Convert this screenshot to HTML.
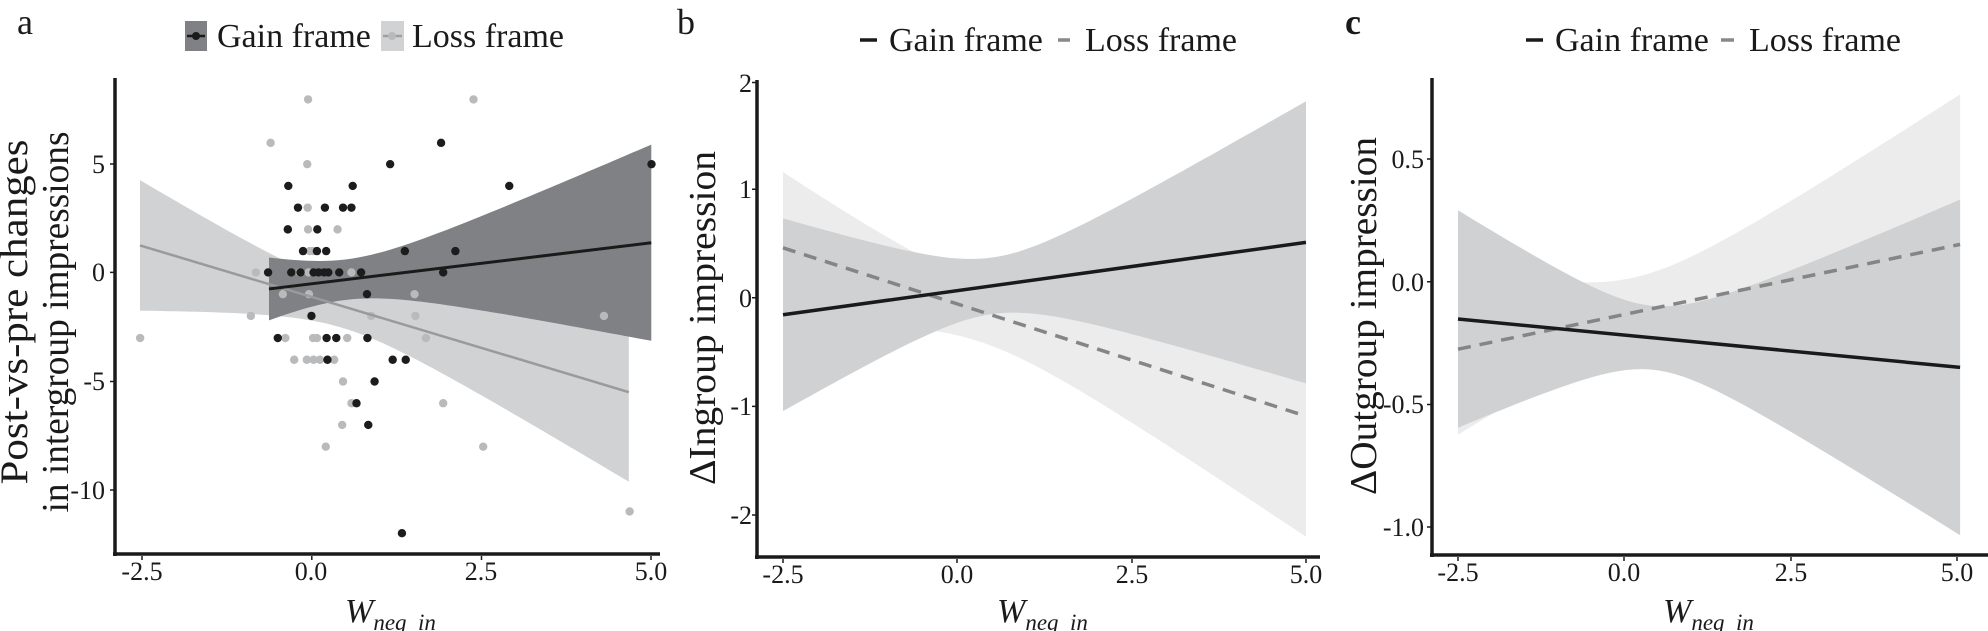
<!DOCTYPE html>
<html><head><meta charset="utf-8"><style>
html,body{margin:0;padding:0;background:#fff;}
svg{display:block;}
text{font-family:"Liberation Serif",serif;fill:#1a1a1a;}
.t{font-size:26px;}
.lg{font-size:34px;}
.ti{font-size:36px;}
</style></head><body>
<svg id="s" width="1988" height="631" viewBox="0 0 1988 631" xmlns="http://www.w3.org/2000/svg">
<g id="g"></g>
<g stroke="#1a1a1a" stroke-width="3.5" fill="none">
<path d="M115 78 V556 M113 554 H660"/>
<path d="M757 80 V559 M755 557 H1320"/>
<path d="M1432 78 V557 M1430 555 H1988"/>
</g>
<g stroke="#1a1a1a" stroke-width="1.5">
<path d="M110 164h5M110 272.4h5M110 381.5h5M110 490h5M142 556v4M311.8 556v4M481.5 556v4M651 556v4"/>
<path d="M752 82.5h5M752 189.2h5M752 297.8h5M752 406.4h5M752 515h5M783 559v4M957 559v4M1132 559v4M1306 559v4"/>
<path d="M1427 159h5M1427 281.7h5M1427 404.5h5M1427 527h5M1458 557v4M1624 557v4M1791 557v4M1957 557v4"/>
</g>
<text x="17" y="34" class="ti">a</text>
<g class="t" text-anchor="end">
<text x="105" y="173">5</text><text x="105" y="281">0</text><text x="105" y="390">-5</text><text x="105" y="499">-10</text>
</g>
<g class="t" text-anchor="middle">
<text x="142" y="580">-2.5</text><text x="311" y="580">0.0</text><text x="481" y="580">2.5</text><text x="651" y="580">5.0</text>
</g>
<text x="345" y="622" style="font-size:34px;font-style:italic">W<tspan style="font-size:23px" dy="8">neg_in</tspan></text>
<text transform="translate(27,312) rotate(-90)" text-anchor="middle" style="font-size:39px" textLength="345" lengthAdjust="spacingAndGlyphs">Post-vs-pre changes</text>
<text transform="translate(68,322) rotate(-90)" text-anchor="middle" style="font-size:38px" textLength="381" lengthAdjust="spacingAndGlyphs">in intergroup impressions</text>
<rect x="185" y="21" width="22" height="30" fill="#808184"/>
<line x1="187" y1="36" x2="205" y2="36" stroke="#1a1a1a" stroke-width="2.5"/><circle cx="196" cy="36" r="4" fill="#1a1a1a"/>
<text x="217" y="47" class="lg">Gain frame</text>
<rect x="381" y="21" width="23" height="30" fill="#d1d2d4"/>
<line x1="383" y1="36" x2="402" y2="36" stroke="#a0a0a0" stroke-width="2.5"/><circle cx="392" cy="36" r="4" fill="#b8b9bb"/>
<text x="412" y="47" class="lg">Loss frame</text>
<text x="677" y="34" class="ti">b</text>
<g class="t" text-anchor="end">
<text x="752" y="92">2</text><text x="752" y="198">1</text><text x="752" y="307">0</text><text x="752" y="415">-1</text><text x="752" y="524">-2</text>
</g>
<g class="t" text-anchor="middle">
<text x="783" y="583">-2.5</text><text x="957" y="583">0.0</text><text x="1132" y="583">2.5</text><text x="1306" y="583">5.0</text>
</g>
<text x="997" y="622" style="font-size:34px;font-style:italic">W<tspan style="font-size:23px" dy="8">neg_in</tspan></text>
<text transform="translate(715,318) rotate(-90)" text-anchor="middle" style="font-size:38px" textLength="334" lengthAdjust="spacingAndGlyphs">ΔIngroup impression</text>
<line x1="860" y1="40" x2="877" y2="40" stroke="#1a1a1a" stroke-width="3.5"/>
<text x="889" y="51" class="lg">Gain frame</text>
<line x1="1058" y1="40" x2="1070" y2="40" stroke="#888" stroke-width="3.5"/>
<text x="1085" y="51" class="lg">Loss frame</text>
<text x="1345" y="34" class="ti" font-weight="bold">c</text>
<g class="t" text-anchor="end">
<text x="1424" y="168">0.5</text><text x="1424" y="291">0.0</text><text x="1424" y="413">-0.5</text><text x="1424" y="536">-1.0</text>
</g>
<g class="t" text-anchor="middle">
<text x="1458" y="581">-2.5</text><text x="1624" y="581">0.0</text><text x="1791" y="581">2.5</text><text x="1957" y="581">5.0</text>
</g>
<text x="1663" y="622" style="font-size:34px;font-style:italic">W<tspan style="font-size:23px" dy="8">neg_in</tspan></text>
<text transform="translate(1376,316) rotate(-90)" text-anchor="middle" style="font-size:38px" textLength="358" lengthAdjust="spacingAndGlyphs">ΔOutgroup impression</text>
<line x1="1526" y1="40" x2="1543" y2="40" stroke="#1a1a1a" stroke-width="3.5"/>
<text x="1555" y="51" class="lg">Gain frame</text>
<line x1="1721" y1="40" x2="1734" y2="40" stroke="#888" stroke-width="3.5"/>
<text x="1749" y="51" class="lg">Loss frame</text>
</svg>
<script>
(function(){
var g=document.getElementById('g'),NS='http://www.w3.org/2000/svg';
function el(n,a){var e=document.createElementNS(NS,n);for(var k in a)e.setAttribute(k,a[k]);g.appendChild(e);return e;}
function band(X,Y,x1,x2,y1,slope,x0,w0,k2,fill){
 var up=[],lo=[],N=60;
 for(var i=0;i<=N;i++){var x=x1+(x2-x1)*i/N,c=y1+slope*(x-x1),w=Math.sqrt(w0*w0+k2*(x-x0)*(x-x0));
  up.push(X(x).toFixed(1)+','+Y(c+w).toFixed(1));lo.unshift(X(x).toFixed(1)+','+Y(c-w).toFixed(1));}
 el('polygon',{points:up.concat(lo).join(' '),fill:fill});
}
function line(X,Y,x1,y1,x2,y2,st,w,da){var a={x1:X(x1),y1:Y(y1),x2:X(x2),y2:Y(y2),stroke:st,'stroke-width':w};if(da)a['stroke-dasharray']=da;el('line',a);}
var Xa=function(v){return 142+67.9*(v+2.5)},Ya=function(v){return 272.4-21.77*v};
var lp=[[732,247],[1125,247],[643,355],[730,408],[731,516],[732,570],[802,570],[683,570],[736,624],[744,624],[608,677],[712,677],[733,677],[835,677],[672,731],[734,731],[985,731],[596,785],[882,785],[987,785],[1435,785],[333,840],[678,840],[744,840],[753,840],[825,840],[1012,840],[699,894],[729,894],[745,894],[760,894],[794,894],[815,948],[835,1002],[1053,1002],[813,1056],[774,1110],[1148,1110],[1496,1271]];
var dp=[[1548,408],[1048,355],[927,408],[1210,462],[685,462],[838,462],[708,516],[772,516],[815,516],[835,516],[754,570],[720,624],[753,624],[775,624],[962,624],[1082,624],[637,677],[692,677],[714,677],[745,677],[757,677],[770,677],[780,677],[806,677],[858,677],[1053,677],[740,785],[872,731],[660,840],[776,840],[799,840],[873,840],[933,894],[964,894],[778,894],[890,948],[847,1002],[875,1056],[955,1325],[684,570]];
band(Xa,Ya,-2.53,4.67,1.24,-0.935,0.45,1.0,0.9,'#d1d2d4');
band(Xa,Ya,-0.63,5.0,-0.76,0.377,0.5,0.93,0.96,'#808184');
lp.forEach(function(p){el('circle',{cx:p[0]/2.376,cy:p[1]/2.485,r:4.2,fill:'#b9babc'});});
dp.forEach(function(p){el('circle',{cx:p[0]/2.376,cy:p[1]/2.485,r:4.2,fill:'#1c1c1c'});});
line(Xa,Ya,-2.53,1.24,4.67,-5.5,'#9a9a9a',2.5);
line(Xa,Ya,-0.63,-0.76,5.0,1.36,'#1a1a1a',3);
var Xb=function(v){return 783+69.73*(v+2.5)},Yb=function(v){return 297.8-108.6*v};
band(Xb,Yb,-2.5,5.0,0.46,-0.207,0.3,0.28,0.052,'#ececec');
band(Xb,Yb,-2.5,5.0,-0.156,0.0889,0.5,0.26,0.08,'#d0d1d3');
line(Xb,Yb,-2.5,0.46,5.0,-1.09,'#858585',3.5,'13 9');
line(Xb,Yb,-2.5,-0.156,5.0,0.51,'#1a1a1a',3.5);
var Xc=function(v){return 1458+66.5*(v+2.5)},Yc=function(v){return 281.7-245.5*v};
band(Xc,Yc,-2.5,5.05,-0.278,0.0566,0.1,0.145,0.0145,'#ececec');
band(Xc,Yc,-2.5,5.05,-0.152,-0.0261,0.42,0.13,0.021,'#d0d1d3');
line(Xc,Yc,-2.5,-0.275,5.05,0.152,'#858585',3.5,'13 9');
line(Xc,Yc,-2.5,-0.152,5.05,-0.349,'#1a1a1a',3.5);
})();
</script>
</body></html>
